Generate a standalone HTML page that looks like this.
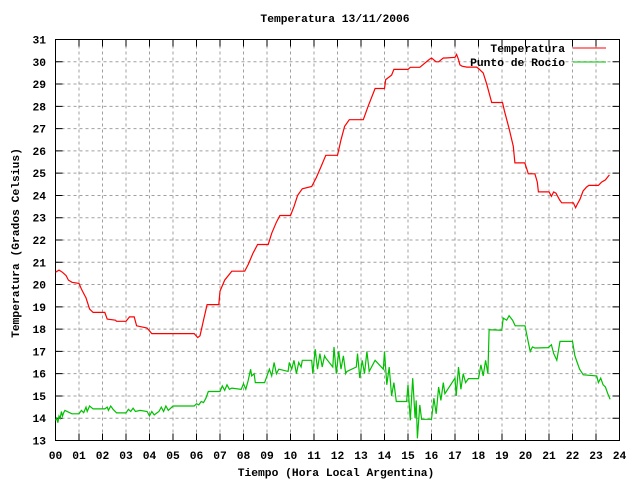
<!DOCTYPE html>
<html><head><meta charset="utf-8"><style>
body{margin:0;background:#fff}
svg{display:block}
text{font-family:"Liberation Mono","DejaVu Sans Mono",monospace;font-size:11.3px;font-weight:bold;fill:#000}
</style></head><body>
<svg id="chart" width="640" height="480" viewBox="0 0 640 480">
<rect width="640" height="480" fill="#fff"/>
<g id="grid"></g>
<g id="axes"></g>
<text x="335" y="22" text-anchor="middle">Temperatura 13/11/2006</text>
<text x="336" y="476" text-anchor="middle">Tiempo (Hora Local Argentina)</text>
<text x="0" y="0" text-anchor="middle" transform="translate(19,243) rotate(-90)">Temperatura (Grados Celsius)</text>
<g id="series"></g>
<g>
<g><text x="565" y="52" text-anchor="end">Temperatura</text><line x1="573" y1="48" x2="606" y2="48" stroke="#ff0000" stroke-width="1"/></g>
<g><text x="565" y="66" text-anchor="end">Punto de Rocío</text><line x1="573" y1="62" x2="606" y2="62" stroke="#00c000" stroke-width="1"/></g>
</g>
</svg>
<script>
const xTicks=["00","01","02","03","04","05","06","07","08","09","10","11","12","13","14","15","16","17","18","19","20","21","22","23","24"];
const yTicks=[13,14,15,16,17,18,19,20,21,22,23,24,25,26,27,28,29,30,31];
const tempHours=[0,0.15,0.3,0.45,0.55,0.7,1.0,1.1,1.2,1.3,
1.45,1.6,2.1,2.2,2.55,2.6,3.0,3.15,3.35,3.45,
3.9,4.1,5.9,6.05,6.15,6.3,6.45,6.95,7.0,7.2,
7.5,8.05,8.2,8.4,8.6,9.05,9.2,9.4,9.55,10.0,
10.15,10.3,10.5,10.9,11.1,11.3,11.5,12.0,12.15,12.3,
12.5,13.1,13.3,13.6,14.0,14.05,14.3,14.4,15.0,15.1,
15.5,15.9,16.0,16.2,16.3,16.5,16.6,17.0,17.07,17.15,
17.21,17.3,17.5,17.92,18.0,18.2,18.35,18.56,19.02,19.1,
19.3,19.48,19.55,19.97,20.05,20.12,20.4,20.5,20.55,21.0,
21.1,21.2,21.3,21.45,21.54,22.04,22.13,22.2,22.32,22.45,
22.6,22.7,23.1,23.24,23.4,23.57];
const tempValues=[20.55,20.65,20.55,20.4,20.2,20.1,20.05,19.8,19.6,19.4,
18.9,18.75,18.75,18.45,18.4,18.35,18.35,18.55,18.55,18.15,
18.05,17.8,17.8,17.62,17.7,18.4,19.1,19.1,19.7,20.2,
20.6,20.6,20.9,21.4,21.8,21.8,22.3,22.8,23.1,23.1,
23.5,24.0,24.3,24.4,24.8,25.3,25.8,25.8,26.5,27.1,
27.4,27.4,28.0,28.8,28.8,29.2,29.4,29.66,29.66,29.75,
29.75,30.1,30.17,30.0,30.0,30.17,30.17,30.2,30.33,30.1,
29.86,29.8,29.76,29.76,29.7,29.5,29.0,28.17,28.17,27.8,
27.0,26.2,25.46,25.46,25.2,24.97,24.97,24.6,24.16,24.16,
23.96,24.16,24.1,23.8,23.67,23.67,23.45,23.6,23.83,24.2,
24.38,24.45,24.45,24.6,24.7,24.92];
const dewHours=[0,0.05,0.1,0.15,0.2,0.25,0.3,0.35,0.4,0.7,
1.0,1.1,1.2,1.3,1.35,1.45,1.6,2.1,2.2,2.25,
2.35,2.45,2.6,3.0,3.1,3.2,3.3,3.4,3.6,3.9,
4.0,4.1,4.2,4.4,4.5,4.6,4.7,4.8,5.0,5.9,
6.0,6.1,6.2,6.3,6.4,6.5,7.0,7.1,7.2,7.3,
7.4,7.5,7.9,8.0,8.1,8.2,8.3,8.35,8.45,8.5,
8.9,9.0,9.1,9.2,9.3,9.4,9.5,9.9,9.95,10.05,
10.15,10.25,10.35,10.45,10.5,10.9,10.95,11.05,11.15,11.25,
11.35,11.45,11.5,11.8,11.85,11.95,12.05,12.15,12.25,12.35,
12.4,12.8,12.85,12.95,13.05,13.15,13.25,13.35,13.6,13.95,
14.0,14.1,14.2,14.3,14.4,14.5,14.94,15.0,15.1,15.2,
15.3,15.35,15.4,15.5,15.58,16.0,16.1,16.2,16.3,16.4,
16.5,16.57,17.0,17.05,17.15,17.25,17.35,17.45,17.57,18.0,
18.1,18.2,18.3,18.4,18.45,18.99,19.05,19.2,19.3,19.45,
19.56,19.98,20.1,20.2,20.3,20.4,20.97,21.1,21.2,21.33,
21.47,22.0,22.1,22.2,22.3,22.46,23.03,23.1,23.2,23.3,
23.4,23.5,23.6];
const dewValues=[13.9,14.0,13.8,14.1,14.0,14.3,14.1,14.25,14.35,14.2,
14.2,14.35,14.25,14.5,14.3,14.55,14.42,14.42,14.5,14.35,
14.55,14.4,14.24,14.24,14.4,14.3,14.45,14.3,14.35,14.3,
14.1,14.3,14.15,14.3,14.5,14.3,14.55,14.35,14.55,14.55,
14.65,14.6,14.75,14.7,14.9,15.2,15.2,15.45,15.25,15.5,
15.3,15.35,15.3,15.55,15.3,15.7,16.2,15.9,16.0,15.6,
15.6,15.9,16.2,15.9,16.5,16.0,16.2,16.1,16.5,16.2,
16.6,16.0,16.5,16.3,16.6,16.6,16.0,17.1,16.2,16.9,
16.3,16.8,16.7,16.3,17.2,16.0,17.0,16.2,16.8,16.0,
16.1,16.3,16.9,15.8,16.6,16.0,17.0,16.1,16.6,16.2,
17.0,15.5,16.3,15.0,15.6,14.75,14.75,15.5,13.9,15.8,
14.0,14.8,13.1,14.6,13.95,13.95,14.9,14.2,15.4,14.8,
15.6,15.1,15.8,15.0,16.3,15.3,16.0,15.6,15.78,15.78,
16.4,15.9,16.6,16.0,17.97,17.95,18.5,18.4,18.6,18.4,
18.15,18.15,17.5,17.0,17.2,17.15,17.17,17.3,16.9,16.6,
17.45,17.45,16.8,16.5,16.2,15.95,15.9,15.6,15.8,15.5,
15.4,15.1,14.85];

const L=55.5,R=619.5,T=39.5,B=440.5;
const X=h=>L+(R-L)*h/24;
const Y=v=>B-(B-T)*(v-13)/18;
const NS="http://www.w3.org/2000/svg";
function mk(tag,parent){const e=document.createElementNS(NS,tag);parent.appendChild(e);return e;}
const grid=document.getElementById('grid'),axes=document.getElementById('axes'),series=document.getElementById('series');
xTicks.forEach((t,i)=>{
  const x=X(i);
  if(i>0&&i<24){const g=mk('line',grid);g.setAttribute('x1',x);g.setAttribute('x2',x);g.setAttribute('y1',T);g.setAttribute('y2',B);g.setAttribute('stroke','#a0a0a0');g.setAttribute('stroke-dasharray','3,3');
  
  }
  const tk=mk('path',axes);tk.setAttribute('d',`M${x},${B}v-7M${x},${T}v7`);tk.setAttribute('stroke','#000');
  
  
  const tx=mk('text',axes);tx.setAttribute('x',x);tx.setAttribute('y',459);tx.setAttribute('text-anchor','middle');tx.textContent=t;
  
  
});
yTicks.forEach(v=>{
  const y=Y(v);
  if(v>13&&v<31){const g=mk('line',grid);g.setAttribute('x1',L);g.setAttribute('x2',R);g.setAttribute('y1',y);g.setAttribute('y2',y);g.setAttribute('stroke','#a0a0a0');g.setAttribute('stroke-dasharray','3,3');
  
  }
  const tk=mk('path',axes);tk.setAttribute('d',`M${L},${y}h7M${R},${y}h-7`);tk.setAttribute('stroke','#000');
  
  
  const tx=mk('text',axes);tx.setAttribute('x',46);tx.setAttribute('y',y+4);tx.setAttribute('text-anchor','end');tx.textContent=v;
  
  
});
const fr=mk('rect',axes);fr.setAttribute('x',L);fr.setAttribute('y',T);fr.setAttribute('width',R-L);fr.setAttribute('height',B-T);fr.setAttribute('fill','none');fr.setAttribute('stroke','#000');


function line(hs,vs,color,name){
  const p=mk('polyline',series);
  p.setAttribute('points',hs.map((h,i)=>X(h).toFixed(1)+','+Y(vs[i]).toFixed(1)).join(' '));
  p.setAttribute('fill','none');p.setAttribute('stroke',color);p.setAttribute('stroke-width','1.2');
  
  
}
line(dewHours,dewValues,'#00c000','dew-point-line');
line(tempHours,tempValues,'#ff0000','temperature-line');
</script>
</body></html>
